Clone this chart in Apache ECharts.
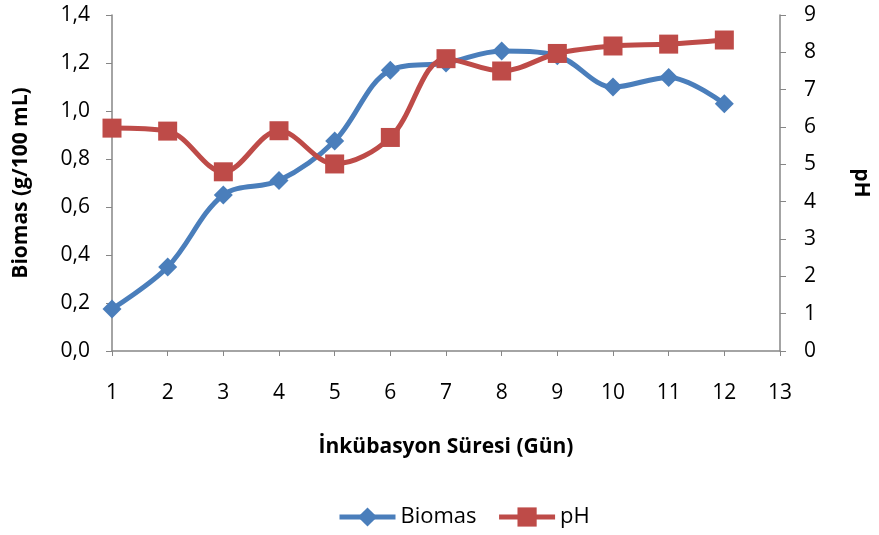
<!DOCTYPE html>
<html>
<head>
<meta charset="utf-8">
<script src="https://cdn.jsdelivr.net/npm/echarts@6/dist/echarts.min.js"></script>
<style>
  html, body { margin: 0; padding: 0; background: #fff; }
  #chart { width: 879px; height: 535px; }
</style>
</head>
<body>
<div id="chart"></div>
<script>
// Incubation days and measured values
const days = [1, 2, 3, 4, 5, 6, 7, 8, 9, 10, 11, 12];
const biomas = [0.175, 0.35, 0.65, 0.71, 0.875, 1.17, 1.20, 1.25, 1.23, 1.10, 1.14, 1.03];
const ph = [5.97, 5.89, 4.80, 5.90, 5.01, 5.72, 7.83, 7.50, 7.97, 8.17, 8.22, 8.33];
const biomasTicks = ['0,0', '0,2', '0,4', '0,6', '0,8', '1,0', '1,2', '1,4'];

const FONT = '"Open Sans", Lato, sans-serif';
const AXIS_GRAY = '#868686';
const BLUE = '#4a7ebb';
const RED = '#be4b48';

const chart = echarts.init(document.getElementById('chart'));

const pairs = arr => days.map((d, i) => [d, arr[i]]);

chart.setOption({
  animation: false,
  textStyle: { fontFamily: FONT },
  grid: { left: 112, right: 92, top: 15, bottom: 184 },
  legend: {
    bottom: 2,
    left: 332,
    itemWidth: 56,
    itemHeight: 24,
    itemGap: 20,
    lineStyle: { width: 5 },
    textStyle: { fontSize: 22, color: '#000', fontFamily: FONT },
    data: ['Biomas', 'pH']
  },
  xAxis: {
    type: 'value',
    min: 1, max: 13, interval: 1,
    name: 'İnkübasyon Süresi (Gün)',
    nameLocation: 'middle',
    nameGap: 86,
    nameTextStyle: { fontSize: 21, fontWeight: 'bold', color: '#000' },
    axisLine: { show: true, lineStyle: { color: AXIS_GRAY, width: 1.5 } },
    axisTick: { show: true, length: 5, lineStyle: { color: AXIS_GRAY } },
    axisLabel: { fontSize: 21, color: '#000', margin: 32 },
    splitLine: { show: false }
  },
  yAxis: [
    {
      type: 'value',
      min: 0, max: 1.4, interval: 0.2,
      position: 'left',
      name: 'Biomas (g/100 mL)',
      nameLocation: 'middle',
      nameRotate: 90,
      nameGap: 80,
      nameTextStyle: { fontSize: 21, fontWeight: 'bold', color: '#000' },
      axisLine: { show: true, lineStyle: { color: AXIS_GRAY, width: 1.5 } },
      axisTick: { show: true, length: 6, lineStyle: { color: AXIS_GRAY } },
      axisLabel: {
        fontSize: 21, color: '#000', margin: 22,
        formatter: v => biomasTicks[Math.round(v / 0.2)]
      },
      splitLine: { show: false }
    },
    {
      type: 'value',
      min: 0, max: 9, interval: 1,
      position: 'right',
      name: 'pH',
      nameLocation: 'middle',
      nameRotate: -90,
      nameGap: 70,
      nameTextStyle: { fontSize: 21, fontWeight: 'bold', color: '#000' },
      axisLine: { show: true, lineStyle: { color: AXIS_GRAY, width: 1.5 } },
      axisTick: { show: true, length: 6, lineStyle: { color: AXIS_GRAY } },
      axisLabel: { fontSize: 21, color: '#000', margin: 24 },
      splitLine: { show: false }
    }
  ],
  series: [
    {
      name: 'Biomas',
      type: 'line',
      yAxisIndex: 0,
      data: pairs(biomas),
      smooth: 0.35,
      symbol: 'diamond',
      symbolSize: 19,
      lineStyle: { color: BLUE, width: 5 },
      itemStyle: { color: BLUE }
    },
    {
      name: 'pH',
      type: 'line',
      yAxisIndex: 1,
      data: pairs(ph),
      smooth: 0.35,
      symbol: 'rect',
      symbolSize: 19,
      lineStyle: { color: RED, width: 5 },
      itemStyle: { color: RED }
    }
  ]
});
</script>
</body>
</html>
